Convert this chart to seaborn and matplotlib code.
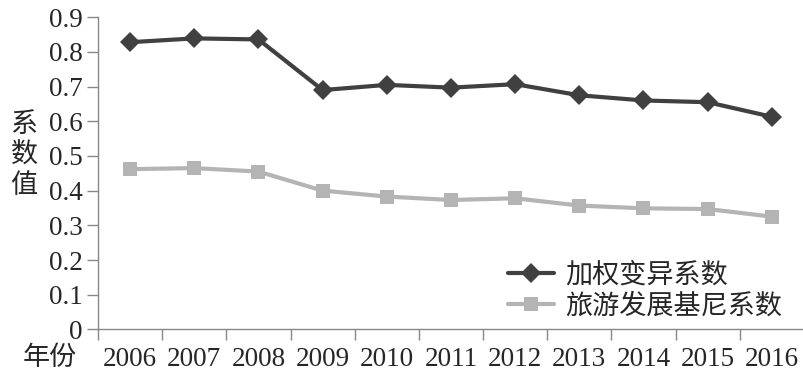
import matplotlib
matplotlib.use("Agg")
import matplotlib.pyplot as plt
import seaborn as sns
import pandas as pd
import numpy as np
from matplotlib.ticker import FixedLocator

years = ["2006", "2007", "2008", "2009", "2010", "2011", "2012", "2013", "2014", "2015", "2016"]
weighted_cv = [0.828, 0.839, 0.836, 0.690, 0.705, 0.697, 0.707, 0.675, 0.660, 0.655, 0.613]
tourism_gini = [0.462, 0.465, 0.455, 0.400, 0.383, 0.373, 0.378, 0.357, 0.349, 0.347, 0.325]
series_names = ["加权变异系数", "旅游发展基尼系数"]
y_ticks = [0, 0.1, 0.2, 0.3, 0.4, 0.5, 0.6, 0.7, 0.8, 0.9]
y_tick_labels = ["0", "0.1", "0.2", "0.3", "0.4", "0.5", "0.6", "0.7", "0.8", "0.9"]

sns.set_style("white")
plt.rcParams['font.family'] = ['Liberation Serif', 'Noto Sans CJK SC', 'DejaVu Sans']

df = pd.DataFrame({
    "年份": years * 2,
    "系数值": weighted_cv + tourism_gini,
    "series": [series_names[0]] * len(years) + [series_names[1]] * len(years),
})

FS = 19.5

fig = plt.figure(figsize=(8.04, 3.83), dpi=100)
ax = fig.add_axes([0.1219, 0.140, 0.878, 0.815])

sns.lineplot(data=df, x="年份", y="系数值", hue="series", style="series",
             palette=["#404040", "#b4b4b4"], markers=["D", "s"], dashes=False,
             markersize=10.5, linewidth=3, markeredgewidth=0, ax=ax, sort=False)

ax.set_xlim(-0.5, len(years) - 0.5)
ax.set_ylim(0, 0.9)
ax.set_yticks(y_ticks)
ax.set_yticklabels(y_tick_labels)
ax.xaxis.set_minor_locator(FixedLocator(np.arange(-0.5, len(years), 1.0)))
ax.tick_params(axis='x', which='major', length=0, pad=13, labelsize=FS)
ax.tick_params(axis='x', which='minor', length=8, width=1, color='#888888', direction='out')
ax.tick_params(axis='y', which='major', length=8, width=1, color='#888888', direction='out', pad=3, labelsize=FS)
ax.tick_params(left=True, bottom=True)
ax.xaxis.set_tick_params(which='minor', bottom=True)

for side in ['top', 'right']:
    ax.spines[side].set_visible(False)
for side in ['left', 'bottom']:
    ax.spines[side].set_color('#888888')
    ax.spines[side].set_linewidth(1)

ax.set_xlabel("")
ax.set_ylabel("")

fig.text(0.030, 1 - 156 / 383, "系\n数\n值", fontsize=FS, ha='center', va='center', linespacing=1.3)
fig.text(0.062, 1 - 358 / 383, "年份", fontsize=FS, ha='center', va='center')

leg = ax.legend(loc='upper left', bbox_to_anchor=(508 / 804, 1 - 263 / 383),
                bbox_transform=fig.transFigure, frameon=False, fontsize=FS,
                handlelength=1.7, handletextpad=0.4, labelspacing=0.2,
                borderaxespad=0, borderpad=0)

fig.savefig("out.png", dpi=100)
